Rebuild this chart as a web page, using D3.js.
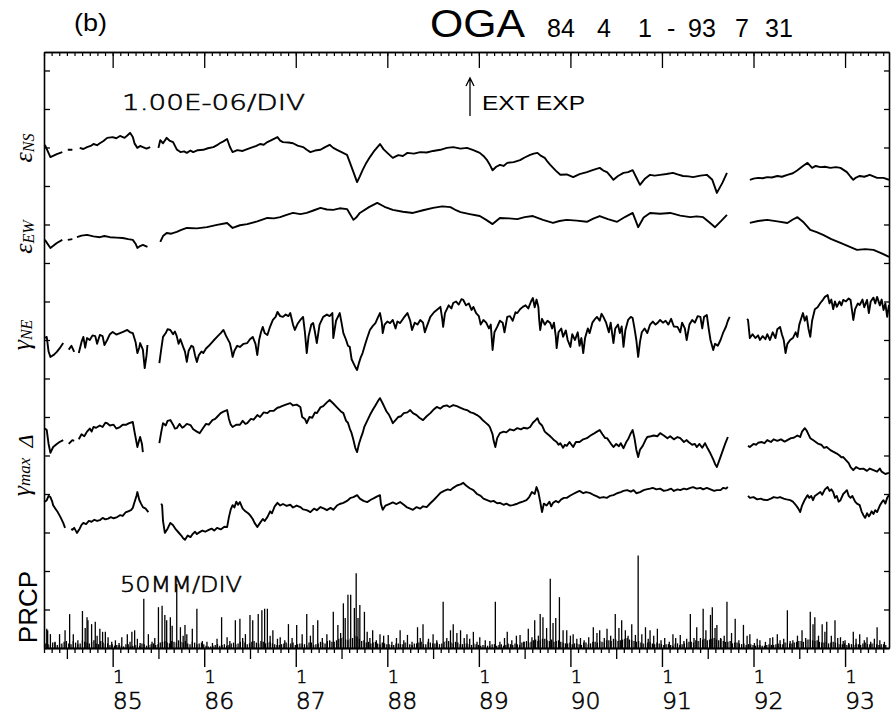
<!DOCTYPE html>
<html><head><meta charset="utf-8">
<script src="https://cdn.jsdelivr.net/npm/d3@7/dist/d3.min.js"></script>
<style>body{margin:0;background:#fff}svg{display:block}</style>
</head><body><svg id="c" width="891" height="717"></svg>
<script>
// ---- data (strain in units of 1e-6, read on the chart's 1.00E-06/DIV scale; PRCP in mm) ----
const epsNS = [[1984.26,13.07],[1984.32,12.75],[1984.39,12.83],[1984.45,12.88],[1984.48,null],[1984.51,12.94],[1984.56,12.94],[1984.60,null],[1984.64,12.99],[1984.68,12.96],[1984.72,13.01],[1984.76,13.04],[1984.79,13.09],[1984.83,13.06],[1984.86,13.11],[1984.90,13.17],[1984.94,13.25],[1985.00,13.27],[1985.04,13.24],[1985.08,13.30],[1985.13,13.25],[1985.16,13.31],[1985.19,13.38],[1985.22,13.27],[1985.24,13.10],[1985.27,12.99],[1985.30,13.04],[1985.33,13.01],[1985.37,12.97],[1985.41,13.01],[1985.45,null],[1985.50,12.99],[1985.52,13.19],[1985.55,13.11],[1985.59,13.25],[1985.62,13.18],[1985.66,13.14],[1985.70,12.95],[1985.74,12.88],[1985.78,12.90],[1985.81,12.86],[1985.85,12.92],[1985.88,12.88],[1985.93,12.93],[1985.99,12.94],[1986.04,12.98],[1986.10,13.01],[1986.14,13.06],[1986.17,13.11],[1986.21,13.16],[1986.25,13.22],[1986.28,13.02],[1986.31,12.88],[1986.36,12.93],[1986.42,12.91],[1986.47,12.96],[1986.53,13.01],[1986.57,13.04],[1986.61,13.09],[1986.65,13.07],[1986.69,13.14],[1986.74,13.20],[1986.80,13.27],[1986.83,13.18],[1986.86,13.14],[1986.92,13.13],[1986.97,13.11],[1987.02,13.05],[1987.08,13.01],[1987.12,12.94],[1987.16,12.88],[1987.21,12.92],[1987.27,12.94],[1987.32,13.01],[1987.37,13.07],[1987.41,12.99],[1987.45,12.94],[1987.50,12.88],[1987.56,12.81],[1987.61,12.49],[1987.67,12.10],[1987.70,12.25],[1987.73,12.41],[1987.77,12.60],[1987.81,12.75],[1987.86,12.92],[1987.92,13.09],[1987.96,12.95],[1988.00,12.86],[1988.06,12.73],[1988.12,12.80],[1988.17,12.78],[1988.22,12.86],[1988.29,12.84],[1988.36,12.88],[1988.43,12.87],[1988.50,12.91],[1988.58,12.94],[1988.65,12.99],[1988.72,13.01],[1988.80,12.97],[1988.87,12.99],[1988.94,12.93],[1989.01,12.86],[1989.05,12.78],[1989.09,12.67],[1989.12,12.55],[1989.15,12.41],[1989.19,12.50],[1989.23,12.55],[1989.27,12.52],[1989.31,12.60],[1989.38,12.62],[1989.45,12.67],[1989.50,12.74],[1989.56,12.81],[1989.60,12.84],[1989.64,12.86],[1989.68,12.78],[1989.72,12.73],[1989.75,12.63],[1989.78,12.55],[1989.84,12.40],[1989.89,12.29],[1989.96,12.30],[1990.03,12.23],[1990.10,12.31],[1990.18,12.36],[1990.25,12.42],[1990.32,12.47],[1990.36,12.40],[1990.40,12.36],[1990.44,12.25],[1990.47,12.16],[1990.52,12.26],[1990.58,12.34],[1990.63,12.36],[1990.68,12.41],[1990.72,12.22],[1990.76,12.03],[1990.81,12.18],[1990.87,12.29],[1990.92,12.27],[1990.98,12.29],[1991.05,12.31],[1991.12,12.34],[1991.17,12.30],[1991.23,12.26],[1991.29,12.25],[1991.34,12.23],[1991.42,12.27],[1991.49,12.29],[1991.55,12.16],[1991.60,11.82],[1991.66,12.08],[1991.71,12.34],[1991.80,null],[1991.96,12.16],[1992.00,12.19],[1992.05,12.21],[1992.10,12.20],[1992.15,12.23],[1992.20,12.22],[1992.26,12.26],[1992.31,12.24],[1992.37,12.29],[1992.43,12.33],[1992.48,12.41],[1992.54,12.52],[1992.59,12.60],[1992.64,12.47],[1992.68,12.52],[1992.73,12.49],[1992.78,12.50],[1992.84,12.47],[1992.90,12.49],[1992.95,12.47],[1993.02,12.36],[1993.06,12.24],[1993.09,12.16],[1993.12,12.22],[1993.16,12.26],[1993.21,12.24],[1993.27,12.29],[1993.31,12.25],[1993.35,12.21],[1993.42,12.21],[1993.48,12.16]];
const epsEW = [[1984.26,10.60],[1984.32,10.39],[1984.39,10.52],[1984.45,10.60],[1984.48,null],[1984.51,10.60],[1984.56,10.62],[1984.59,null],[1984.61,10.67],[1984.66,10.71],[1984.72,10.73],[1984.79,10.69],[1984.86,10.67],[1984.91,10.70],[1984.97,10.67],[1985.04,10.66],[1985.11,10.65],[1985.17,10.62],[1985.22,10.60],[1985.25,10.50],[1985.27,10.39],[1985.30,10.44],[1985.33,10.47],[1985.38,10.42],[1985.45,null],[1985.52,10.55],[1985.55,10.70],[1985.59,10.78],[1985.64,10.76],[1985.70,10.81],[1985.75,10.86],[1985.81,10.91],[1985.92,10.90],[1986.03,10.93],[1986.14,10.99],[1986.25,11.04],[1986.31,10.91],[1986.39,10.98],[1986.47,11.01],[1986.58,11.08],[1986.69,11.17],[1986.76,11.16],[1986.83,11.19],[1986.90,11.25],[1986.97,11.30],[1987.05,11.27],[1987.12,11.30],[1987.20,11.37],[1987.27,11.43],[1987.34,11.39],[1987.41,11.38],[1987.48,11.42],[1987.56,11.40],[1987.63,11.12],[1987.66,11.18],[1987.70,11.30],[1987.80,11.45],[1987.89,11.56],[1987.97,11.46],[1988.06,11.38],[1988.17,11.33],[1988.28,11.30],[1988.39,11.37],[1988.50,11.43],[1988.60,11.47],[1988.69,11.45],[1988.75,11.37],[1988.80,11.32],[1988.90,11.27],[1989.01,11.22],[1989.08,11.12],[1989.15,11.01],[1989.23,11.17],[1989.33,11.16],[1989.42,11.14],[1989.50,11.19],[1989.59,11.22],[1989.70,11.12],[1989.81,11.04],[1989.88,11.09],[1989.96,11.12],[1990.07,11.10],[1990.18,11.07],[1990.25,11.15],[1990.32,11.22],[1990.41,11.14],[1990.51,11.07],[1990.60,11.20],[1990.68,11.30],[1990.71,11.12],[1990.74,10.93],[1990.80,11.18],[1990.87,11.30],[1990.98,11.28],[1991.09,11.30],[1991.20,11.23],[1991.31,11.19],[1991.38,11.21],[1991.45,11.19],[1991.52,11.05],[1991.58,10.93],[1991.65,11.10],[1991.71,11.25],[1991.80,null],[1991.96,11.04],[1992.05,11.09],[1992.15,11.12],[1992.26,11.08],[1992.37,11.04],[1992.43,11.13],[1992.48,11.19],[1992.55,11.05],[1992.62,10.86],[1992.69,10.80],[1992.76,10.73],[1992.85,10.62],[1992.95,10.52],[1993.04,10.43],[1993.13,10.34],[1993.22,10.36],[1993.31,10.34],[1993.40,10.25],[1993.48,10.16]];
const gammaNE = [[1984.26,8.05],[1984.28,8.08],[1984.30,7.70],[1984.32,7.56],[1984.36,7.62],[1984.39,7.69],[1984.42,7.78],[1984.46,7.92],[1984.49,null],[1984.52,7.75],[1984.55,7.85],[1984.58,7.69],[1984.61,null],[1984.63,7.66],[1984.66,7.95],[1984.68,8.08],[1984.70,7.80],[1984.72,8.05],[1984.75,8.00],[1984.78,8.12],[1984.81,8.10],[1984.83,7.90],[1984.86,8.13],[1984.89,8.10],[1984.91,7.87],[1984.94,8.00],[1984.97,8.15],[1985.00,8.21],[1985.04,8.14],[1985.08,8.18],[1985.12,8.22],[1985.16,8.26],[1985.19,8.20],[1985.22,8.18],[1985.25,7.95],[1985.27,7.66],[1985.29,7.80],[1985.30,7.92],[1985.33,7.75],[1985.35,7.27],[1985.37,7.60],[1985.38,7.87],[1985.45,null],[1985.51,7.40],[1985.53,7.75],[1985.55,8.08],[1985.58,8.18],[1985.60,8.28],[1985.63,8.26],[1985.66,8.15],[1985.68,8.22],[1985.70,8.10],[1985.72,7.90],[1985.74,8.02],[1985.77,7.82],[1985.79,7.70],[1985.81,7.43],[1985.83,7.72],[1985.86,7.85],[1985.88,7.82],[1985.90,7.60],[1985.92,7.43],[1985.94,7.60],[1985.97,7.70],[1985.99,7.66],[1986.02,7.78],[1986.06,7.87],[1986.10,7.98],[1986.14,8.08],[1986.18,8.18],[1986.21,8.26],[1986.24,8.10],[1986.28,7.92],[1986.30,7.70],[1986.31,7.56],[1986.33,7.72],[1986.36,7.85],[1986.39,7.82],[1986.43,7.90],[1986.47,7.92],[1986.50,8.02],[1986.53,8.08],[1986.56,7.90],[1986.58,7.61],[1986.60,8.00],[1986.62,8.20],[1986.64,8.34],[1986.66,8.18],[1986.69,8.13],[1986.72,8.35],[1986.75,8.52],[1986.78,8.60],[1986.80,8.73],[1986.83,8.62],[1986.86,8.60],[1986.89,8.66],[1986.92,8.62],[1986.94,8.70],[1986.97,8.40],[1986.99,8.26],[1987.02,8.42],[1987.05,8.52],[1987.08,8.60],[1987.10,8.20],[1987.12,7.66],[1987.14,8.10],[1987.17,8.40],[1987.19,8.44],[1987.21,8.20],[1987.23,7.92],[1987.26,8.40],[1987.30,8.60],[1987.34,8.66],[1987.37,8.62],[1987.40,8.70],[1987.41,8.05],[1987.44,8.50],[1987.48,8.70],[1987.50,8.45],[1987.52,8.18],[1987.55,8.00],[1987.57,7.85],[1987.59,7.82],[1987.61,7.50],[1987.63,7.40],[1987.65,7.30],[1987.67,7.22],[1987.69,7.40],[1987.71,7.55],[1987.73,7.66],[1987.76,7.90],[1987.78,8.05],[1987.81,8.26],[1987.84,8.36],[1987.87,8.44],[1987.90,8.60],[1987.92,8.70],[1987.94,8.45],[1987.95,8.18],[1987.97,8.40],[1988.00,8.48],[1988.03,8.44],[1988.06,8.52],[1988.09,8.30],[1988.11,8.48],[1988.14,8.44],[1988.18,8.58],[1988.22,8.70],[1988.25,8.50],[1988.27,8.26],[1988.30,8.45],[1988.33,8.40],[1988.36,8.52],[1988.39,8.45],[1988.41,8.20],[1988.43,8.34],[1988.47,8.60],[1988.51,8.72],[1988.55,8.80],[1988.58,8.86],[1988.60,8.55],[1988.61,8.34],[1988.63,8.70],[1988.67,8.90],[1988.70,8.82],[1988.72,8.96],[1988.75,9.00],[1988.78,8.92],[1988.81,9.06],[1988.83,9.04],[1988.86,8.90],[1988.89,8.95],[1988.92,8.78],[1988.94,8.86],[1988.97,8.70],[1989.00,8.62],[1989.02,8.40],[1989.05,8.52],[1989.08,8.45],[1989.11,8.30],[1989.13,8.40],[1989.15,7.74],[1989.17,8.20],[1989.20,8.34],[1989.23,8.50],[1989.26,8.45],[1989.28,8.20],[1989.31,8.60],[1989.34,8.62],[1989.37,8.50],[1989.40,8.72],[1989.42,8.70],[1989.45,8.80],[1989.48,8.86],[1989.51,8.90],[1989.54,8.82],[1989.57,9.00],[1989.59,9.09],[1989.61,8.85],[1989.63,9.05],[1989.65,8.86],[1989.66,8.50],[1989.67,8.26],[1989.69,8.55],[1989.72,8.40],[1989.75,8.50],[1989.78,8.44],[1989.80,8.30],[1989.82,8.45],[1989.84,8.10],[1989.85,7.79],[1989.87,8.20],[1989.90,8.30],[1989.92,8.08],[1989.95,8.25],[1989.97,8.00],[1990.00,7.82],[1990.02,8.15],[1990.05,8.00],[1990.08,8.20],[1990.10,7.85],[1990.12,8.05],[1990.14,7.66],[1990.16,8.05],[1990.19,8.30],[1990.21,8.18],[1990.24,8.45],[1990.27,8.55],[1990.29,8.60],[1990.32,8.50],[1990.34,8.68],[1990.36,8.60],[1990.39,8.45],[1990.42,8.20],[1990.44,8.45],[1990.47,7.92],[1990.49,8.30],[1990.52,8.40],[1990.54,8.18],[1990.56,8.35],[1990.58,7.82],[1990.60,8.25],[1990.63,8.52],[1990.66,8.60],[1990.68,8.57],[1990.70,8.30],[1990.72,8.00],[1990.74,7.56],[1990.76,7.95],[1990.78,8.20],[1990.81,8.30],[1990.84,8.18],[1990.87,8.40],[1990.90,8.48],[1990.93,8.40],[1990.95,8.44],[1990.98,8.52],[1991.01,8.45],[1991.04,8.50],[1991.07,8.40],[1991.10,8.55],[1991.13,8.35],[1991.17,8.34],[1991.20,8.20],[1991.22,8.45],[1991.25,8.30],[1991.27,8.00],[1991.30,8.40],[1991.33,8.52],[1991.36,8.45],[1991.39,8.62],[1991.42,8.60],[1991.44,8.30],[1991.46,8.60],[1991.49,8.65],[1991.51,8.30],[1991.53,8.00],[1991.56,7.74],[1991.58,7.90],[1991.61,7.85],[1991.64,8.00],[1991.67,8.20],[1991.70,8.35],[1991.72,8.50],[1991.74,8.60],[1991.84,null],[1991.93,8.55],[1991.94,8.52],[1991.96,8.05],[1991.99,8.15],[1992.02,8.05],[1992.05,8.12],[1992.07,8.00],[1992.10,8.10],[1992.13,8.02],[1992.15,8.15],[1992.18,8.00],[1992.21,8.20],[1992.24,8.05],[1992.26,8.28],[1992.29,8.34],[1992.31,8.15],[1992.33,8.00],[1992.35,7.66],[1992.37,7.90],[1992.40,8.00],[1992.43,8.05],[1992.46,8.20],[1992.48,8.08],[1992.50,8.40],[1992.52,8.55],[1992.54,8.70],[1992.56,8.50],[1992.58,8.62],[1992.60,8.30],[1992.62,8.08],[1992.64,8.50],[1992.67,8.80],[1992.70,8.85],[1992.73,8.96],[1992.76,9.05],[1992.78,9.12],[1992.81,9.17],[1992.83,8.95],[1992.85,9.05],[1992.87,8.80],[1992.89,9.00],[1992.91,8.86],[1992.94,9.00],[1992.96,8.90],[1992.98,9.04],[1993.01,9.00],[1993.04,9.08],[1993.06,9.04],[1993.08,8.70],[1993.09,8.52],[1993.11,8.80],[1993.14,8.95],[1993.16,8.91],[1993.19,9.05],[1993.21,8.85],[1993.24,9.04],[1993.26,8.70],[1993.28,9.00],[1993.31,9.10],[1993.33,8.95],[1993.35,9.12],[1993.38,8.90],[1993.40,9.05],[1993.42,8.78],[1993.44,8.95],[1993.46,8.60],[1993.48,8.91]];
const delta = [[1984.26,5.70],[1984.28,5.66],[1984.30,5.30],[1984.32,5.07],[1984.35,5.22],[1984.39,5.30],[1984.42,5.35],[1984.46,5.40],[1984.49,null],[1984.52,5.30],[1984.56,5.40],[1984.58,5.38],[1984.61,null],[1984.63,5.42],[1984.66,5.55],[1984.69,5.50],[1984.72,5.62],[1984.75,5.70],[1984.77,5.62],[1984.79,5.74],[1984.82,5.72],[1984.86,5.78],[1984.89,5.74],[1984.92,5.85],[1984.94,5.84],[1984.97,5.78],[1985.01,5.80],[1985.04,5.70],[1985.08,5.74],[1985.11,5.80],[1985.15,5.80],[1985.18,5.84],[1985.22,5.87],[1985.24,5.60],[1985.27,5.22],[1985.29,5.40],[1985.30,5.48],[1985.32,5.30],[1985.33,5.09],[1985.45,null],[1985.51,5.32],[1985.53,5.60],[1985.55,5.84],[1985.58,5.78],[1985.60,5.90],[1985.63,5.92],[1985.66,5.80],[1985.68,5.70],[1985.70,5.71],[1985.73,5.82],[1985.76,5.72],[1985.78,5.75],[1985.81,5.82],[1985.85,5.79],[1985.88,5.68],[1985.92,5.62],[1985.95,5.58],[1985.99,5.72],[1986.02,5.82],[1986.05,5.80],[1986.09,5.92],[1986.12,5.95],[1986.14,6.00],[1986.18,6.10],[1986.21,6.14],[1986.25,6.18],[1986.27,5.95],[1986.29,5.80],[1986.31,5.74],[1986.35,5.80],[1986.39,5.80],[1986.42,5.90],[1986.45,5.82],[1986.47,5.84],[1986.51,5.95],[1986.54,5.93],[1986.58,6.05],[1986.61,6.00],[1986.65,6.12],[1986.69,6.10],[1986.72,6.16],[1986.76,6.16],[1986.80,6.24],[1986.83,6.26],[1986.87,6.30],[1986.90,6.33],[1986.94,6.36],[1986.97,6.30],[1987.01,6.32],[1987.05,6.26],[1987.07,6.00],[1987.10,5.95],[1987.12,5.84],[1987.15,6.00],[1987.18,5.98],[1987.21,6.12],[1987.23,6.10],[1987.27,6.25],[1987.30,6.28],[1987.34,6.38],[1987.37,6.44],[1987.41,6.35],[1987.45,6.25],[1987.49,6.15],[1987.52,6.10],[1987.55,5.90],[1987.57,5.85],[1987.59,5.70],[1987.61,5.58],[1987.63,5.40],[1987.65,5.20],[1987.67,5.09],[1987.69,5.30],[1987.71,5.45],[1987.73,5.58],[1987.75,5.75],[1987.78,5.90],[1987.81,6.05],[1987.84,6.18],[1987.87,6.30],[1987.90,6.42],[1987.92,6.49],[1987.95,6.35],[1987.97,6.25],[1987.99,6.15],[1988.02,6.05],[1988.04,5.95],[1988.06,5.84],[1988.09,5.92],[1988.12,6.00],[1988.15,6.02],[1988.18,6.10],[1988.22,6.12],[1988.25,6.18],[1988.28,6.10],[1988.32,6.05],[1988.35,5.98],[1988.39,5.92],[1988.43,6.02],[1988.47,6.10],[1988.50,6.18],[1988.54,6.26],[1988.58,6.22],[1988.61,6.28],[1988.65,6.30],[1988.68,6.26],[1988.72,6.31],[1988.76,6.28],[1988.80,6.24],[1988.84,6.20],[1988.87,6.18],[1988.91,6.12],[1988.94,6.10],[1988.98,6.05],[1989.01,6.00],[1989.05,5.90],[1989.07,5.86],[1989.10,5.80],[1989.12,5.74],[1989.15,5.55],[1989.16,5.40],[1989.18,5.22],[1989.20,5.45],[1989.23,5.58],[1989.27,5.62],[1989.30,5.60],[1989.34,5.68],[1989.38,5.65],[1989.42,5.71],[1989.46,5.68],[1989.49,5.72],[1989.53,5.70],[1989.56,5.74],[1989.59,5.85],[1989.62,5.92],[1989.64,5.97],[1989.66,5.85],[1989.69,5.78],[1989.72,5.62],[1989.74,5.58],[1989.77,5.52],[1989.80,5.45],[1989.82,5.40],[1989.85,5.35],[1989.87,5.28],[1989.89,5.32],[1989.92,5.20],[1989.94,5.28],[1989.96,5.25],[1989.99,5.35],[1990.03,5.22],[1990.06,5.35],[1990.10,5.35],[1990.14,5.42],[1990.18,5.45],[1990.22,5.52],[1990.25,5.56],[1990.29,5.62],[1990.32,5.66],[1990.35,5.55],[1990.38,5.45],[1990.40,5.45],[1990.43,5.35],[1990.45,5.28],[1990.47,5.22],[1990.50,5.30],[1990.53,5.24],[1990.55,5.32],[1990.58,5.19],[1990.61,5.35],[1990.63,5.42],[1990.66,5.58],[1990.68,5.66],[1990.70,5.45],[1990.72,5.15],[1990.74,4.96],[1990.76,5.15],[1990.79,5.25],[1990.82,5.40],[1990.84,5.48],[1990.88,5.50],[1990.91,5.52],[1990.95,5.50],[1990.98,5.58],[1991.02,5.52],[1991.06,5.45],[1991.09,5.50],[1991.13,5.42],[1991.17,5.48],[1991.20,5.45],[1991.24,5.35],[1991.27,5.40],[1991.29,5.35],[1991.33,5.28],[1991.36,5.30],[1991.38,5.22],[1991.41,5.30],[1991.44,5.20],[1991.47,5.32],[1991.50,5.18],[1991.53,5.05],[1991.56,4.90],[1991.58,4.78],[1991.60,4.70],[1991.63,4.90],[1991.66,5.10],[1991.69,5.30],[1991.72,5.48],[1991.84,null],[1991.94,5.25],[1991.96,5.22],[1992.00,5.30],[1992.03,5.28],[1992.05,5.33],[1992.09,5.35],[1992.12,5.32],[1992.15,5.40],[1992.19,5.35],[1992.22,5.42],[1992.26,5.38],[1992.30,5.42],[1992.34,5.36],[1992.37,5.40],[1992.41,5.45],[1992.44,5.46],[1992.48,5.52],[1992.51,5.48],[1992.53,5.62],[1992.56,5.71],[1992.58,5.65],[1992.60,5.55],[1992.62,5.45],[1992.65,5.40],[1992.68,5.35],[1992.71,5.30],[1992.74,5.28],[1992.77,5.20],[1992.80,5.22],[1992.84,5.14],[1992.87,5.10],[1992.91,5.05],[1992.94,5.00],[1992.96,4.95],[1992.98,4.96],[1993.01,4.88],[1993.04,4.80],[1993.06,4.70],[1993.09,4.62],[1993.12,4.70],[1993.16,4.65],[1993.20,4.66],[1993.24,4.60],[1993.27,4.66],[1993.31,4.62],[1993.35,4.58],[1993.38,4.66],[1993.40,4.58],[1993.44,4.52],[1993.48,4.55]];
const gammaMax = [[1984.26,3.80],[1984.28,3.84],[1984.30,3.95],[1984.32,3.92],[1984.34,3.80],[1984.35,3.71],[1984.38,3.60],[1984.40,3.53],[1984.43,3.40],[1984.46,3.25],[1984.48,3.12],[1984.52,null],[1984.55,3.10],[1984.56,3.07],[1984.58,3.12],[1984.61,2.99],[1984.64,3.10],[1984.66,3.20],[1984.68,3.25],[1984.71,3.22],[1984.74,3.30],[1984.77,3.28],[1984.80,3.33],[1984.83,3.30],[1984.86,3.32],[1984.89,3.38],[1984.92,3.34],[1984.95,3.36],[1984.98,3.40],[1985.01,3.37],[1985.05,3.40],[1985.08,3.45],[1985.11,3.43],[1985.14,3.52],[1985.17,3.55],[1985.20,3.58],[1985.22,3.64],[1985.24,3.80],[1985.26,3.95],[1985.27,4.05],[1985.29,3.85],[1985.31,3.75],[1985.33,3.66],[1985.36,3.62],[1985.39,3.53],[1985.46,null],[1985.53,3.75],[1985.54,3.71],[1985.55,3.30],[1985.57,2.99],[1985.60,3.10],[1985.63,3.25],[1985.66,3.19],[1985.69,3.08],[1985.72,3.00],[1985.75,2.92],[1985.77,2.85],[1985.79,2.81],[1985.82,2.92],[1985.85,2.88],[1985.87,2.95],[1985.90,3.02],[1985.92,2.96],[1985.95,3.01],[1985.98,3.05],[1986.01,3.02],[1986.05,3.07],[1986.08,3.10],[1986.11,3.05],[1986.14,3.12],[1986.18,3.08],[1986.22,3.15],[1986.25,3.14],[1986.27,3.40],[1986.29,3.60],[1986.31,3.71],[1986.33,3.65],[1986.35,3.80],[1986.37,3.72],[1986.39,3.79],[1986.42,3.62],[1986.45,3.55],[1986.48,3.50],[1986.50,3.45],[1986.53,3.35],[1986.55,3.25],[1986.58,3.14],[1986.61,3.25],[1986.64,3.35],[1986.66,3.30],[1986.69,3.40],[1986.72,3.55],[1986.74,3.50],[1986.77,3.68],[1986.80,3.77],[1986.83,3.70],[1986.86,3.74],[1986.90,3.69],[1986.94,3.72],[1986.97,3.65],[1987.01,3.70],[1987.05,3.66],[1987.08,3.60],[1987.12,3.58],[1987.16,3.53],[1987.20,3.62],[1987.23,3.58],[1987.27,3.66],[1987.31,3.62],[1987.34,3.58],[1987.38,3.64],[1987.41,3.59],[1987.45,3.70],[1987.48,3.74],[1987.52,3.77],[1987.56,3.82],[1987.60,3.90],[1987.63,3.92],[1987.67,3.97],[1987.70,3.88],[1987.74,3.82],[1987.78,3.79],[1987.82,3.85],[1987.86,3.90],[1987.89,3.94],[1987.92,3.97],[1987.93,3.75],[1987.95,3.59],[1987.98,3.70],[1988.02,3.74],[1988.06,3.78],[1988.10,3.74],[1988.14,3.79],[1988.18,3.72],[1988.21,3.66],[1988.25,3.62],[1988.28,3.59],[1988.32,3.66],[1988.36,3.62],[1988.39,3.68],[1988.43,3.66],[1988.47,3.76],[1988.51,3.85],[1988.55,3.95],[1988.58,4.03],[1988.62,4.08],[1988.66,4.12],[1988.69,4.10],[1988.72,4.16],[1988.76,4.22],[1988.80,4.25],[1988.83,4.29],[1988.86,4.22],[1988.90,4.15],[1988.94,4.10],[1988.98,4.00],[1989.02,3.95],[1989.05,3.88],[1989.09,3.84],[1989.13,3.80],[1989.16,3.82],[1989.20,3.76],[1989.23,3.77],[1989.27,3.72],[1989.30,3.75],[1989.34,3.70],[1989.37,3.71],[1989.41,3.74],[1989.45,3.78],[1989.48,3.80],[1989.52,3.84],[1989.55,3.92],[1989.58,4.05],[1989.61,4.00],[1989.63,4.18],[1989.65,4.05],[1989.67,3.80],[1989.69,3.53],[1989.71,3.75],[1989.74,3.70],[1989.77,3.80],[1989.79,3.68],[1989.81,3.77],[1989.84,3.82],[1989.87,3.78],[1989.90,3.86],[1989.93,3.90],[1989.96,3.90],[1990.00,3.96],[1990.03,4.00],[1990.07,4.05],[1990.10,4.08],[1990.14,4.02],[1990.17,4.05],[1990.21,4.03],[1990.25,3.98],[1990.29,3.94],[1990.32,3.90],[1990.36,3.92],[1990.40,3.90],[1990.43,3.95],[1990.47,3.97],[1990.51,4.02],[1990.55,4.05],[1990.58,4.08],[1990.62,4.10],[1990.66,4.06],[1990.69,4.10],[1990.72,4.02],[1990.76,4.05],[1990.80,4.10],[1990.83,4.12],[1990.87,4.14],[1990.90,4.16],[1990.94,4.12],[1990.98,4.14],[1991.02,4.08],[1991.06,4.10],[1991.10,4.14],[1991.13,4.08],[1991.17,4.12],[1991.20,4.10],[1991.24,4.14],[1991.27,4.12],[1991.31,4.16],[1991.34,4.18],[1991.38,4.14],[1991.42,4.16],[1991.45,4.12],[1991.49,4.16],[1991.53,4.12],[1991.57,4.08],[1991.60,4.10],[1991.64,4.10],[1991.67,4.16],[1991.70,4.14],[1991.72,4.18],[1991.84,null],[1991.94,3.95],[1991.96,3.90],[1992.00,3.92],[1992.04,3.86],[1992.08,3.88],[1992.11,3.85],[1992.15,3.84],[1992.19,3.88],[1992.22,3.92],[1992.26,3.90],[1992.29,3.92],[1992.33,3.88],[1992.36,3.86],[1992.40,3.84],[1992.43,3.80],[1992.46,3.72],[1992.49,3.62],[1992.51,3.53],[1992.53,3.70],[1992.56,3.85],[1992.59,3.97],[1992.61,3.90],[1992.63,3.95],[1992.65,3.84],[1992.67,3.95],[1992.70,4.00],[1992.73,4.05],[1992.75,3.98],[1992.78,4.12],[1992.81,4.18],[1992.83,4.08],[1992.85,4.12],[1992.87,4.05],[1992.89,3.90],[1992.91,3.95],[1992.93,3.80],[1992.95,3.84],[1992.98,4.00],[1993.00,4.05],[1993.02,4.10],[1993.04,3.95],[1993.06,3.90],[1993.08,3.95],[1993.09,3.90],[1993.11,3.80],[1993.13,3.75],[1993.16,3.71],[1993.18,3.55],[1993.20,3.45],[1993.22,3.38],[1993.24,3.50],[1993.26,3.42],[1993.27,3.45],[1993.29,3.55],[1993.31,3.48],[1993.33,3.58],[1993.35,3.53],[1993.38,3.70],[1993.40,3.78],[1993.42,3.84],[1993.44,3.75],[1993.46,3.90],[1993.48,3.97]];
const prcp = [[1984.28,25],[1984.29,23],[1984.32,18],[1984.37,8],[1984.42,18],[1984.48,23],[1984.53,44],[1984.57,18],[1984.62,10],[1984.67,48],[1984.70,26],[1984.72,40],[1984.73,36],[1984.77,31],[1984.81,34],[1984.83,16],[1984.86,25],[1984.89,21],[1984.92,21],[1984.95,14],[1984.99,8],[1985.03,10],[1985.07,6.5],[1985.10,14],[1985.16,18],[1985.19,8],[1985.21,21],[1985.24,23],[1985.27,12],[1985.30,6.5],[1985.34,64],[1985.39,18],[1985.43,8],[1985.46,13],[1985.50,53],[1985.54,55],[1985.57,43],[1985.59,36],[1985.63,40],[1985.65,29],[1985.70,83],[1985.74,27],[1985.77,16],[1985.79,30],[1985.81,18],[1985.87,25],[1985.92,51],[1985.98,9],[1986.03,8],[1986.09,6.5],[1986.14,12],[1986.19,40],[1986.25,14],[1986.28,9],[1986.34,36],[1986.39,38],[1986.42,13],[1986.45,18],[1986.50,43],[1986.53,36],[1986.59,44],[1986.63,49],[1986.66,51],[1986.69,51],[1986.72,16],[1986.75,23],[1986.80,12],[1986.83,14],[1986.88,10],[1986.92,31],[1986.96,13],[1987.01,30],[1987.07,18],[1987.12,44],[1987.16,16],[1987.19,30],[1987.24,36],[1987.29,13],[1987.34,18],[1987.37,10],[1987.41,47],[1987.46,30],[1987.49,19.5],[1987.52,58],[1987.54,39],[1987.57,69],[1987.60,69],[1987.64,52],[1987.66,97],[1987.68,39],[1987.70,56],[1987.75,47],[1987.78,21],[1987.81,13],[1987.84,23],[1987.88,10],[1987.92,18],[1987.96,16],[1988.01,17],[1988.05,8],[1988.10,13],[1988.14,23],[1988.18,10],[1988.22,17],[1988.27,8],[1988.33,27],[1988.36,13],[1988.39,31],[1988.45,12],[1988.50,18],[1988.54,10],[1988.61,60],[1988.65,13],[1988.69,23],[1988.72,31],[1988.76,19.5],[1988.80,23],[1988.84,13],[1988.87,18],[1988.90,12],[1988.94,21],[1988.98,8],[1989.01,14],[1989.07,10],[1989.12,9],[1989.18,60],[1989.23,8],[1989.28,13],[1989.31,21],[1989.36,10],[1989.41,16],[1989.45,17],[1989.49,8],[1989.54,25],[1989.58,14],[1989.61,36],[1989.65,16],[1989.67,44],[1989.70,40],[1989.74,26],[1989.78,90],[1989.81,32.5],[1989.84,39],[1989.88,66],[1989.92,23],[1989.96,23],[1990.00,16],[1990.03,18],[1990.07,12],[1990.11,13],[1990.15,10],[1990.20,14],[1990.25,27],[1990.29,19.5],[1990.32,23],[1990.37,13],[1990.40,25],[1990.44,16],[1990.49,44],[1990.53,26],[1990.56,36],[1990.60,23],[1990.63,16],[1990.67,31],[1990.71,17],[1990.74,120],[1990.78,18],[1990.82,27],[1990.85,12],[1990.87,23],[1990.91,16],[1990.95,25],[1990.99,10],[1991.03,13],[1991.08,8],[1991.12,18],[1991.15,13],[1991.20,17],[1991.24,9],[1991.27,12],[1991.31,44],[1991.35,13],[1991.38,27],[1991.42,13],[1991.45,51],[1991.48,23],[1991.53,43],[1991.55,53],[1991.58,26],[1991.60,30],[1991.64,13],[1991.68,16],[1991.71,60],[1991.76,19.5],[1991.80,38],[1991.84,10],[1991.89,30],[1991.93,16],[1991.96,18],[1992.01,6.5],[1992.04,12],[1992.07,10],[1992.13,8],[1992.18,13],[1992.21,14],[1992.26,18],[1992.29,10],[1992.33,12],[1992.37,49],[1992.40,9],[1992.43,10],[1992.48,16],[1992.53,23],[1992.57,13],[1992.62,47],[1992.65,31],[1992.67,40],[1992.71,16],[1992.75,31],[1992.78,21],[1992.80,34],[1992.85,16],[1992.89,36],[1992.92,13],[1992.95,14],[1992.98,9],[1993.00,10],[1993.04,6.5],[1993.09,21],[1993.12,12],[1993.16,18],[1993.21,10],[1993.24,14],[1993.28,8],[1993.32,12],[1993.35,27],[1993.38,10],[1993.43,8]];
// light rain between the larger days (mm): two interleaved runs, one value every 0.05 yr
const prcpLightStart = 1984.27;
const prcpLight = [6,4,7,5,8,6,9,5,10,7,8,6,9,5,4, 3,4,2,5,3,4,6,3,5,4,7,9,6,8,10,7,6,8,5,7, 3,2,4,3,5,4,7,6,9,5,8,7,9,6,8,5,4,6,5,7, 5,6,4,7,5,8,6,9,8,12,14,10,13,15,9,7,6,8,5,6, 5,4,6,5,7,4,6,8,5,7,6,5,8,9,6,7,5,6,4,5, 3,4,3,5,4,3,6,4,5,7,9,8,11,10,12,9,8,10,7,6, 5,6,4,7,6,8,9,7,10,12,9,11,13,10,8,7,6,8,5,6, 4,5,3,6,5,7,8,10,9,12,11,13,10,9,8,6,7,5,4,5, 3,4,3,5,4,6,5,7,6,8,9,10,11,9,8,7,6,8,6,5, 4,5,6,4,7,5,6,4,5];
const prcpLight2Start = 1984.295;
const prcpLight2 = [5,7,4,6,9,5,7,6,8,6,10,5,7,6,5, 4,3,5,2,4,3,5,4,6,5,8,7,9,7,8,9,5,7,6,5, 2,3,5,4,3,6,5,8,7,6,9,6,8,7,6,4,5,7,6,4, 6,5,7,4,6,7,9,8,10,13,11,12,16,12,10,8,7,6,7,5, 4,6,5,7,5,6,7,5,8,6,7,6,9,7,8,5,6,5,6,4, 4,3,5,3,5,4,5,6,4,8,7,10,9,12,10,11,9,8,6,7, 6,5,7,5,8,7,8,10,9,11,10,12,11,9,9,6,7,6,7,5, 5,4,6,4,6,8,7,9,11,10,12,11,12,8,9,7,6,6,5,4, 4,3,4,4,5,5,7,6,7,9,8,11,10,10,7,8,7,7,5,6, 5,4,5,6,5,6,5,5,4];
const yearTicks = [1985,1986,1987,1988,1989,1990,1991,1992,1993];
const yearLabels = ["85","86","87","88","89","90","91","92","93"];
const titleParts = ["84","4","1","-","93","7","31"];

// ---- layout ----
const W=891,H=717, X0=44, X1=889, Y0=52, Y1=648;
const svg = d3.select("#c");
svg.append("rect").attr("width",W).attr("height",H).attr("fill","#fff");
const x = d3.scaleLinear().domain([1984.25,1993.48]).range([X0,X1]);
const y = d3.scaleLinear().domain([0,15.48]).range([Y1,Y0]);
const yP = d3.scaleLinear().domain([0,15.48*50]).range([Y1,Y0]);

const months = d3.range(0,112).map(i=>({v:1984.25+i/12, m:(3+i)%12})).filter(d=>d.v<=1993.481);
const small = months.filter(d=>d.m!==0 && d.m!==6).map(d=>d.v);
const mid = months.filter(d=>d.m===6).map(d=>d.v);

function styleAxis(g, w){ g.selectAll("line").attr("stroke","#000").attr("stroke-width",w); g.selectAll("path").attr("stroke","#000").attr("stroke-width",1.6); }

const gb = svg.append("g").attr("transform",`translate(0,${Y1})`);
gb.append("g").call(d3.axisBottom(x).tickValues(small).tickSize(5).tickFormat("").tickSizeOuter(0)).call(g=>styleAxis(g,1.3));
gb.append("g").call(d3.axisBottom(x).tickValues(mid).tickSize(11).tickFormat("").tickSizeOuter(0)).call(g=>styleAxis(g,1.3));
gb.append("g").call(d3.axisBottom(x).tickValues(yearTicks).tickSize(19).tickFormat("").tickSizeOuter(0)).call(g=>styleAxis(g,1.4));
const gt = svg.append("g").attr("transform",`translate(0,${Y0})`);
gt.append("g").call(d3.axisBottom(x).tickValues(months.map(d=>d.v)).tickSize(4).tickFormat("").tickSizeOuter(0)).call(g=>styleAxis(g,1.2));
gt.append("g").call(d3.axisBottom(x).tickValues(yearTicks).tickSize(16).tickFormat("").tickSizeOuter(0)).call(g=>styleAxis(g,1.3));
svg.append("g").attr("transform",`translate(${X0},0)`).call(d3.axisRight(y).tickValues(d3.range(1,16)).tickSize(6).tickFormat("").tickSizeOuter(0)).call(g=>styleAxis(g,1.3));
svg.append("g").attr("transform",`translate(${X1},0)`).call(d3.axisLeft(y).tickValues(d3.range(1,16)).tickSize(5).tickFormat("").tickSizeOuter(0)).call(g=>styleAxis(g,1.3));
svg.selectAll(".domain").attr("fill","none");

// plotter-style lettering
const lf = "'DejaVu Sans ExtraLight','DejaVu Sans Light','DejaVu Sans',sans-serif";
function plot(sel){ return sel.attr("font-family",lf).attr("font-weight",200).attr("fill","#000").attr("stroke","#000").attr("stroke-width",0.55); }
const yl = svg.append("g");
yl.selectAll("text.one").data(yearTicks).join("text").attr("class","one").call(plot)
  .attr("x",d=>x(d)+6).attr("y",683).attr("text-anchor","middle").attr("font-size",17).text("1");
yl.selectAll("text.yr").data(yearTicks).join("text").attr("class","yr").call(plot)
  .attr("x",d=>x(d)).attr("y",709).attr("font-size",23).attr("textLength",30).attr("lengthAdjust","spacingAndGlyphs")
  .text((d,i)=>yearLabels[i]);

// series
svg.append("clipPath").attr("id","pa").append("rect").attr("x",X0).attr("y",Y0).attr("width",X1-X0).attr("height",Y1-Y0);
const line = d3.line().defined(d=>d[1]!=null).x(d=>x(d[0])).y(d=>y(d[1]));
const gs = svg.append("g").attr("clip-path","url(#pa)");
[epsNS,epsEW,gammaNE,delta,gammaMax].forEach(s=>{
  gs.append("path").datum(s).attr("d",line).attr("fill","none").attr("stroke","#000").attr("stroke-width",1.9).attr("stroke-linejoin","round");
});
const light = prcpLight.map((v,i)=>[prcpLightStart+i*0.05, v]).concat(prcpLight2.map((v,i)=>[prcpLight2Start+i*0.05, v]));
gs.append("g").selectAll("line").data(light.concat(prcp)).join("line")
  .attr("x1",d=>x(d[0])).attr("x2",d=>x(d[0])).attr("y1",yP(0)).attr("y2",d=>yP(d[1]))
  .attr("stroke","#000").attr("stroke-width",1.3);

// texts
const sans = "'Liberation Sans',Arial,sans-serif";
svg.append("text").attr("x",74).attr("y",31).attr("font-family",sans).attr("font-size",23).attr("textLength",33).attr("lengthAdjust","spacingAndGlyphs").text("(b)");
svg.append("text").attr("x",430).attr("y",37).attr("font-family",sans).attr("font-size",38).attr("textLength",95).attr("lengthAdjust","spacingAndGlyphs").text("OGA");
const tpx = [547,597,638,667,688,735,765];
svg.append("g").attr("font-family",sans).attr("font-size",25).selectAll("text").data(titleParts).join("text")
  .attr("x",(d,i)=>tpx[i]).attr("y",37).text(d=>d);
svg.append("text").call(plot).attr("x",122).attr("y",110).attr("font-size",21).attr("textLength",183).attr("lengthAdjust","spacingAndGlyphs").text("1.00E-06/DIV");
svg.append("text").call(plot).attr("x",120).attr("y",592).attr("font-size",21).attr("textLength",122).attr("lengthAdjust","spacingAndGlyphs").text("50MM/DIV");
svg.append("text").attr("x",482).attr("y",110).attr("font-family",sans).attr("font-size",21).attr("textLength",103).attr("lengthAdjust","spacingAndGlyphs").text("EXT EXP");
svg.append("path").attr("d","M470,116V79M466,86L470,78L474,86").attr("fill","none").attr("stroke","#000").attr("stroke-width",1.3);

// y labels (rotated)
const serif = "'Liberation Serif','DejaVu Serif',serif";
function ylab(cx, cy, parts){
  const t = svg.append("text").attr("transform",`translate(${cx},${cy}) rotate(-90)`).attr("text-anchor","middle").attr("font-family",serif).attr("font-style","italic");
  parts.forEach(p=>{ t.append("tspan").attr("font-size",p[1]).attr("dy",p[2]).text(p[0]); });
}
ylab(32,148,[["ε",26,0],["NS",16,2]]);
ylab(32,237,[["ε",26,0],["EW",16,2]]);
ylab(32,335,[["γ",26,-2],["NE",16,2]]);
ylab(33,441,[["Δ",22,0]]);
ylab(32,477,[["γ",26,-2],["max",17,0]]);
svg.append("text").attr("transform","translate(37,607) rotate(-90)").attr("text-anchor","middle").attr("font-family",sans).attr("font-size",26).text("PRCP");
</script></body></html>
